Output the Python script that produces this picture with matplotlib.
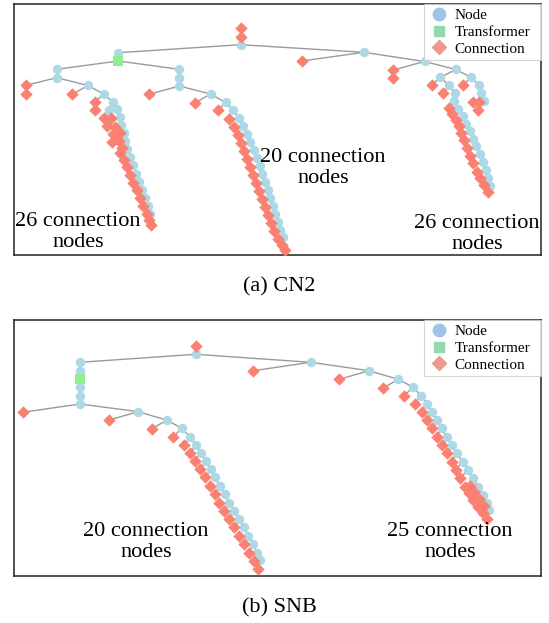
import numpy as np
import matplotlib.pyplot as plt
from matplotlib.lines import Line2D

plt.rcParams['font.family'] = ['Liberation Serif', 'DejaVu Serif']

W, H = 549, 623

BUS_C = '#add8e6'
TR_C = '#90ee90'
CONN_C = '#fa8072'
LINE_C = '#9a9a9a'

# ---------------- CN2 feeder layout (pixel-like layout units) ----------------
a_trafo = (118.3, 61.0)
a_feeders = [
    [(240.7, 44.7), (118.3, 52.7), a_trafo],
    [(240.7, 44.7), (364.0, 52.3), (424.5, 61.5), (456.0, 69.5), (440.0, 77.5),
     (449.0, 85.0), (455.0, 93.3), (454.0, 101.5), (458.0, 109.0), (462.5, 116.5),
     (466.0, 124.0), (469.5, 131.5), (473.0, 139.0), (476.0, 146.5), (479.5, 154.5),
     (482.5, 162.5), (485.5, 170.5), (487.5, 178.5), (490.0, 186.5)],
    [(456.0, 69.5), (471.0, 77.5), (479.0, 85.0), (481.0, 93.3), (484.0, 101.5)],
    [a_trafo, (56.7, 69.3), (56.7, 77.7), (88.0, 85.5), (103.5, 94.0), (112.5, 101.7),
     (116.5, 109.5), (120.0, 117.0), (121.0, 125.0), (123.5, 133.0), (125.0, 141.0),
     (127.0, 149.0), (130.0, 157.0), (133.0, 165.5), (136.0, 174.0), (139.0, 182.0),
     (142.0, 190.0), (145.0, 198.5), (147.5, 206.5), (150.0, 214.5)],
    [(112.5, 101.7), (108.5, 110.0)],
    [a_trafo, (179.3, 69.3), (179.3, 77.7), (179.3, 86.0), (210.5, 94.0), (225.5, 102.5),
     (233.0, 110.0), (238.5, 118.3), (243.0, 126.5), (246.5, 134.5), (250.0, 142.0),
     (253.5, 150.0), (256.5, 158.0), (259.5, 166.0), (262.0, 174.0), (265.0, 182.0),
     (267.5, 190.0), (270.0, 198.0), (272.5, 206.0), (275.0, 214.0), (277.5, 222.0),
     (280.0, 230.0), (283.0, 237.0)],
]
a_conn = [
    (240.7, 28.0), (240.7, 37.0), (301.7, 61.0),
    # right feeder
    (393.3, 70.0), (393.3, 78.3), (431.7, 85.0), (443.3, 93.3), (462.7, 85.0),
    (473.3, 101.7), (479.3, 102.0), (478.3, 110.0), (448.5, 108.5), (452.0, 114.0),
    (456.0, 120.0), (458.5, 126.0), (461.0, 132.7), (464.0, 140.0), (467.3, 148.3),
    (470.0, 156.0), (473.3, 163.3), (477.3, 171.7), (480.0, 178.3), (484.0, 185.0),
    (488.3, 191.7),
    # left feeder
    (26.0, 85.3), (26.0, 94.3), (72.3, 94.3), (95.0, 102.0), (95.0, 110.5),
    (104.0, 118.0), (111.0, 118.0), (107.0, 126.5), (115.0, 127.0), (113.0, 134.0),
    (120.0, 133.5), (112.0, 142.0), (119.0, 141.0), (117.0, 139.0), (122.0, 148.0),
    (120.0, 153.0), (124.0, 160.0), (127.0, 167.0), (130.0, 175.0), (133.0, 183.0),
    (136.5, 190.5), (140.0, 198.5), (143.0, 206.5), (146.5, 214.0), (149.0, 220.0),
    (151.0, 225.0),
    # middle feeder
    (149.0, 94.3), (195.0, 103.0), (218.0, 110.5), (229.0, 119.0), (234.0, 127.0),
    (237.5, 135.0), (241.0, 143.0), (244.0, 151.0), (247.0, 159.0), (250.0, 167.0),
    (253.0, 175.0), (256.0, 183.0), (259.0, 191.0), (262.0, 199.0), (265.0, 207.0),
    (268.0, 215.0), (271.0, 223.0), (274.0, 231.0), (278.0, 239.0), (282.0, 245.0),
    (285.0, 250.0),
]
a_notes = ['26 connection\nnodes', '20 connection\nnodes', '26 connection\nnodes']

# ---------------- SNB feeder layout ----------------
b_trafo = (80.0, 379.0)
b_feeders = [
    [(80.0, 362.3), (195.7, 354.3), (310.7, 362.3), (369.0, 370.7), (398.3, 379.3),
     (413.3, 387.3), (420.7, 395.5), (427.0, 403.5), (431.7, 411.7), (436.7, 420.0),
     (441.5, 428.3), (446.5, 436.7), (451.5, 445.0), (456.5, 453.3), (462.5, 461.7),
     (468.0, 470.0), (473.0, 478.3), (478.0, 486.7), (483.0, 495.0), (486.5, 503.0),
     (489.3, 510.0)],
    [(80.0, 362.3), (80.0, 370.7), b_trafo, (80.0, 387.3), (80.0, 395.7), (80.0, 404.0),
     (138.3, 411.7), (167.3, 420.3), (181.7, 428.3), (190.0, 436.7), (195.7, 444.5),
     (200.7, 452.7), (206.0, 460.7), (210.7, 469.3), (215.0, 477.3), (220.0, 486.0),
     (225.0, 494.0), (229.3, 502.7), (234.0, 510.7), (239.3, 519.3), (244.0, 527.3),
     (248.3, 536.0), (253.3, 544.0), (257.3, 552.7), (260.0, 560.0)],
]
b_conn = [
    (195.7, 345.7),
    # right feeder
    (253.3, 370.7), (339.3, 379.3), (383.3, 388.0), (404.0, 395.5), (415.0, 403.5),
    (421.5, 411.7), (426.5, 420.0), (431.5, 428.3), (436.5, 436.7), (441.5, 445.0),
    (446.5, 453.3), (451.5, 461.7), (455.5, 470.0), (460.0, 478.3), (465.0, 486.7),
    (469.0, 493.0), (473.0, 500.0), (478.0, 506.7), (483.0, 513.3), (487.0, 519.3),
    (470.0, 486.0), (474.0, 492.0), (479.0, 499.0), (484.0, 506.0),
    # left feeder
    (22.7, 412.3), (109.0, 420.0), (151.7, 428.5), (173.0, 437.0), (184.0, 445.0),
    (190.0, 453.3), (195.0, 460.7), (200.0, 469.3), (205.0, 477.3), (210.0, 486.0),
    (215.0, 494.0), (219.3, 502.7), (224.0, 510.7), (229.3, 519.3), (234.0, 527.3),
    (239.3, 536.0), (244.0, 544.0), (249.3, 552.7), (254.0, 560.7), (258.3, 569.3),
]
b_notes = ['20 connection\nnodes', '25 connection\nnodes']

legend_labels = ['Node', 'Transformer', 'Connection']
legend_colors = ['#a0c4e6', '#93d9b0', '#ee9a8a']
legend_markers = ['o', 's', 'D']


def draw_grid(ax, feeders, trafo, conn):
    for f in feeders:
        xs, ys = zip(*f)
        ax.plot(xs, ys, color=LINE_C, lw=1.0, zorder=1)
    buses = []
    for f in feeders:
        for p in f:
            if p != trafo and p not in buses:
                buses.append(p)
    bus = np.array(buses)
    cn = np.array(conn)
    # hook every connection point to the closest bus up/right of it
    # (or to the connection point stacked right above it)
    for cx, cy in conn:
        cand = [tuple(p) for p in bus if p[0] >= cx - 6 and p[1] <= cy + 18]
        cand += [tuple(p) for p in cn if abs(p[0] - cx) < 1.5 and 0 < cy - p[1] < 12]
        cand = np.array(cand)
        d = np.hypot(cand[:, 0] - cx, cand[:, 1] - cy)
        px, py = cand[d.argmin()]
        ax.plot([cx, px], [cy, py], color=LINE_C, lw=1.0, zorder=1)
    ax.scatter(bus[:, 0], bus[:, 1], s=46, c=BUS_C, marker='o', linewidths=0, zorder=2)
    ax.scatter(cn[:, 0], cn[:, 1], s=40, c=CONN_C, marker='D', linewidths=0, zorder=3)
    ax.scatter([trafo[0]], [trafo[1]], s=44, c=TR_C, marker='s', linewidths=0, zorder=4)


def add_legend(ax):
    handles = [Line2D([], [], ls='none', marker=m, color=c, markersize=ms)
               for m, c, ms in zip(legend_markers, legend_colors, [9, 7.5, 7.5])]
    x0 = (424 - 14) / (541 - 14)
    leg = ax.legend(handles, legend_labels, loc='upper left',
                    bbox_to_anchor=(x0, 0, 1 - x0, 1), mode='expand',
                    borderaxespad=0, fontsize=11, frameon=True, fancybox=False,
                    labelspacing=0.2, handletextpad=0.3, handlelength=1.4,
                    borderpad=0.3)
    leg.get_frame().set_edgecolor('#cccccc')
    leg.get_frame().set_linewidth(0.8)


def panel(top, bottom):
    ax = fig.add_axes([14 / W, 1 - bottom / H, (541 - 14) / W, (bottom - top) / H])
    ax.set_xlim(14, 541)
    ax.set_ylim(bottom, top)
    ax.set_xticks([])
    ax.set_yticks([])
    for s in ax.spines.values():
        s.set_linewidth(1.1)
        s.set_color('#222222')
    return ax


fig = plt.figure(figsize=(W / 100, H / 100), dpi=100)

ax1 = panel(4, 255)
draw_grid(ax1, a_feeders, a_trafo, a_conn)
add_legend(ax1)
for txt, (x, y) in zip(a_notes, [(78, 232), (323, 168), (477, 234)]):
    ax1.text(x, y, txt, ha='center', va='center', fontsize=16, linespacing=1.08)
fig.text(279 / W, 1 - 287 / H, '(a) CN2', ha='center', va='center', fontsize=16)

ax2 = panel(320, 576)
draw_grid(ax2, b_feeders, b_trafo, b_conn)
add_legend(ax2)
for txt, (x, y) in zip(b_notes, [(146, 542), (450, 542)]):
    ax2.text(x, y, txt, ha='center', va='center', fontsize=16, linespacing=1.08)
fig.text(279 / W, 1 - 608 / H, '(b) SNB', ha='center', va='center', fontsize=16)

fig.savefig('out.png', dpi=100)
